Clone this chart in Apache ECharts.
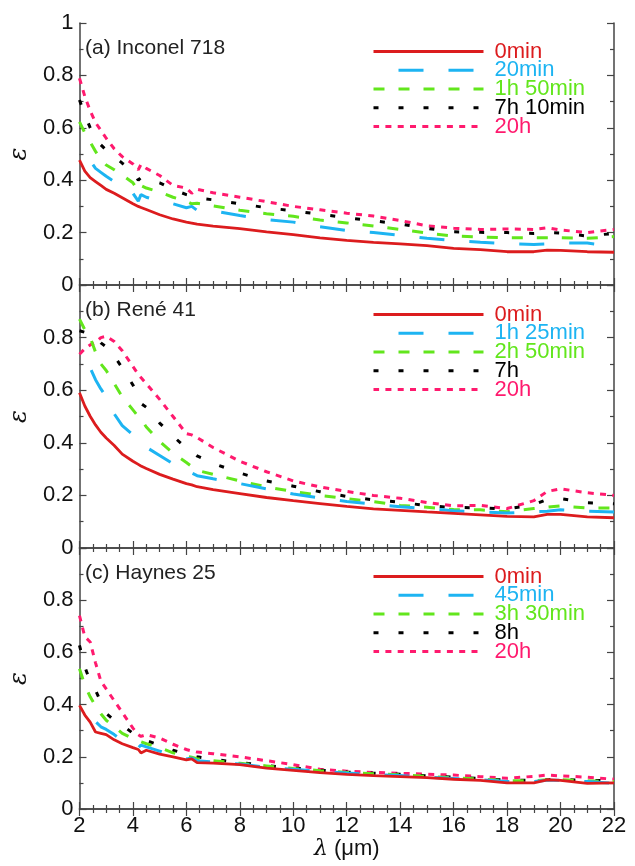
<!DOCTYPE html>
<html>
<head>
<meta charset="utf-8">
<script src="https://cdn.jsdelivr.net/npm/echarts@6/dist/echarts.min.js"></script>
<style>
html,body{margin:0;padding:0;background:#fff;}
#chart{width:635px;height:866px;}
</style>
</head>
<body>
<div id="chart"></div>
<script>
// wavelength grid (µm)
var lam = [2, 2.2, 2.4, 2.6, 2.8, 3, 3.3, 3.6, 4, 4.2, 4.3, 4.5, 5, 5.5, 6, 6.2, 6.4, 7, 8, 9, 10, 11, 12, 13, 14, 15, 16, 17, 18, 19, 19.5, 20, 21, 22];

// (a) Inconel 718
var panelATitle = '(a) Inconel 718';
var namesA = ['0min', '20min', '1h 50min', '7h 10min', '20h'];
var a0 = [0.477,0.435,0.41,0.395,0.38,0.365,0.35,0.333,0.31,0.30,0.296,0.288,0.268,0.252,0.24,0.236,0.232,0.225,0.215,0.203,0.192,0.18,0.17,0.163,0.157,0.15,0.14,0.135,0.127,0.127,0.133,0.132,0.127,0.125];
var a1 = [0.54,0.51,0.475,0.445,0.43,0.415,0.395,0.375,0.35,0.32,0.345,0.335,0.32,0.31,0.295,0.30,0.285,0.283,0.265,0.25,0.24,0.222,0.208,0.20,0.19,0.178,0.17,0.163,0.158,0.155,0.157,0.16,0.16,0.148];
var a2 = [0.623,0.58,0.545,0.51,0.48,0.458,0.44,0.42,0.39,0.36,0.38,0.37,0.355,0.335,0.32,0.31,0.312,0.302,0.285,0.272,0.262,0.248,0.237,0.225,0.212,0.198,0.187,0.183,0.18,0.18,0.18,0.18,0.178,0.185];
var a3 = [0.706,0.65,0.60,0.56,0.535,0.515,0.49,0.465,0.435,0.40,0.41,0.405,0.39,0.365,0.345,0.34,0.333,0.325,0.31,0.295,0.283,0.27,0.257,0.245,0.233,0.216,0.203,0.201,0.20,0.197,0.20,0.198,0.187,0.197];
var a4 = [0.789,0.72,0.665,0.62,0.59,0.56,0.52,0.49,0.462,0.44,0.46,0.445,0.418,0.38,0.37,0.35,0.365,0.352,0.335,0.318,0.30,0.287,0.274,0.263,0.246,0.226,0.217,0.212,0.214,0.212,0.218,0.21,0.20,0.212];

// (b) René 41
var panelBTitle = '(b) René 41';
var namesB = ['0min', '1h 25min', '2h 50min', '7h', '20h'];
var b0 = [0.59,0.54,0.501,0.468,0.44,0.418,0.39,0.357,0.33,0.318,0.312,0.302,0.28,0.262,0.245,0.24,0.233,0.222,0.207,0.192,0.18,0.169,0.158,0.149,0.143,0.137,0.132,0.126,0.12,0.118,0.128,0.128,0.118,0.115];
var b1 = [0.76,0.73,0.685,0.64,0.605,0.575,0.51,0.465,0.43,0.41,0.395,0.383,0.352,0.32,0.288,0.285,0.275,0.263,0.245,0.225,0.205,0.19,0.177,0.167,0.157,0.15,0.142,0.137,0.133,0.138,0.14,0.145,0.14,0.137];
var b2 = [0.87,0.83,0.80,0.745,0.70,0.675,0.625,0.575,0.525,0.50,0.49,0.46,0.405,0.36,0.325,0.31,0.295,0.28,0.255,0.232,0.215,0.20,0.188,0.176,0.162,0.155,0.146,0.145,0.138,0.15,0.155,0.16,0.152,0.152];
var b3 = [0.826,0.82,0.815,0.80,0.78,0.765,0.73,0.685,0.62,0.575,0.55,0.535,0.475,0.425,0.38,0.365,0.35,0.322,0.285,0.255,0.235,0.214,0.196,0.183,0.174,0.161,0.154,0.153,0.148,0.165,0.185,0.188,0.172,0.168];
var b4 = [0.737,0.758,0.772,0.782,0.80,0.805,0.785,0.75,0.69,0.66,0.648,0.625,0.565,0.50,0.435,0.43,0.42,0.382,0.33,0.29,0.255,0.232,0.215,0.20,0.189,0.173,0.16,0.162,0.15,0.18,0.215,0.225,0.21,0.20];

// (c) Haynes 25
var panelCTitle = '(c) Haynes 25';
var namesC = ['0min', '45min', '3h 30min', '8h', '20h'];
var c0 = [0.397,0.36,0.333,0.295,0.29,0.285,0.265,0.25,0.235,0.228,0.215,0.225,0.21,0.20,0.188,0.192,0.178,0.176,0.17,0.157,0.148,0.139,0.133,0.128,0.124,0.12,0.114,0.11,0.10,0.10,0.112,0.11,0.098,0.10];
var c1 = [0.40,0.39,0.365,0.335,0.315,0.305,0.285,0.262,0.245,0.235,0.245,0.238,0.222,0.205,0.192,0.195,0.185,0.18,0.172,0.16,0.152,0.145,0.138,0.132,0.128,0.122,0.117,0.112,0.105,0.105,0.11,0.11,0.105,0.098];
var c2 = [0.537,0.475,0.43,0.395,0.365,0.34,0.315,0.29,0.27,0.26,0.258,0.25,0.235,0.215,0.203,0.198,0.193,0.185,0.175,0.165,0.155,0.147,0.14,0.135,0.131,0.125,0.12,0.115,0.108,0.108,0.112,0.112,0.108,0.105];
var c3 = [0.627,0.544,0.49,0.455,0.41,0.366,0.34,0.322,0.29,0.275,0.27,0.262,0.245,0.225,0.212,0.205,0.20,0.19,0.178,0.166,0.157,0.149,0.142,0.137,0.133,0.127,0.122,0.117,0.11,0.11,0.113,0.113,0.11,0.108];
var c4 = [0.741,0.66,0.64,0.56,0.49,0.46,0.415,0.37,0.31,0.285,0.278,0.285,0.272,0.248,0.228,0.222,0.218,0.212,0.20,0.185,0.17,0.152,0.145,0.14,0.137,0.133,0.13,0.124,0.118,0.125,0.13,0.127,0.122,0.114];

var xTicks = [2, 4, 6, 8, 10, 12, 14, 16, 18, 20, 22];
var yTicks = [0, 0.2, 0.4, 0.6, 0.8, 1];

var FONT = '"Liberation Sans", Arial, sans-serif';
var colors = ['#dc1c1e', '#1db4f2', '#62e61c', '#000000', '#ff1a6e'];
var lineStyles = [
  {width: 2.8, type: 'solid'},
  {width: 3, type: [25, 25], dashOffset: 25},
  {width: 3, type: [11, 14]},
  {width: 3, type: [5, 20]},
  {width: 3, type: [6, 6.3]}
];

var panels = [
  {title: panelATitle, names: namesA, vals: [a0, a1, a2, a3, a4], top: 23, height: 262, legendTop: 40.5, titleTop: 37.5},
  {title: panelBTitle, names: namesB, vals: [b0, b1, b2, b3, b4], top: 285, height: 263, legendTop: 303.5, titleTop: 299.5},
  {title: panelCTitle, names: namesC, vals: [c0, c1, c2, c3, c4], top: 548, height: 261, legendTop: 565.5, titleTop: 562.5}
];

var axisColor = '#444';
var grids = [], xAxes = [], yAxes = [], series = [], legends = [], titles = [];

panels.forEach(function (p, i) {
  grids.push({left: 76, right: 21, top: p.top, height: p.height});
  var last = (i === panels.length - 1);
  var baseX = {
    type: 'value', gridIndex: i, min: xTicks[0], max: xTicks[xTicks.length - 1], interval: 2,
    axisLine: {lineStyle: {color: axisColor, width: 1.5}},
    axisTick: {inside: true, length: 7, lineStyle: {color: axisColor, width: 1.2}},
    minorTick: {show: true, splitNumber: 4, length: 4, lineStyle: {color: axisColor, width: 1.2}},
    splitLine: {show: false}
  };
  xAxes.push(Object.assign({}, baseX, {
    position: 'bottom',
    axisLabel: {show: last, fontSize: 22, color: '#111', fontFamily: FONT, margin: 6},
    name: last ? '{i|λ} (μm)' : '',
    nameLocation: 'middle', nameGap: 28,
    nameTextStyle: {fontSize: 22, color: '#111', fontFamily: FONT,
      rich: {i: {fontSize: 22, fontStyle: 'italic', fontFamily: '"DejaVu Serif", serif', color: '#111'}}}
  }));
  xAxes.push(Object.assign({}, baseX, {position: 'top', axisLabel: {show: false}}));
  var baseY = {
    type: 'value', gridIndex: i, min: yTicks[0], max: yTicks[yTicks.length - 1], interval: 0.2,
    axisLine: {lineStyle: {color: axisColor, width: 1.5}},
    axisTick: {inside: true, length: 7, lineStyle: {color: axisColor, width: 1.2}},
    minorTick: {show: true, splitNumber: 2, length: 4, lineStyle: {color: axisColor, width: 1.2}},
    splitLine: {show: false}
  };
  yAxes.push(Object.assign({}, baseY, {
    position: 'left',
    axisLabel: {fontSize: 22, color: '#111', fontFamily: FONT, margin: 6,
      formatter: (function (idx) { return function (v) { if (idx > 0 && v === 1) return ''; return String(v); }; })(i)},
    name: 'ε', nameLocation: 'middle', nameRotate: 90, nameGap: 37,
    nameTextStyle: {fontSize: 24, fontStyle: 'italic', color: '#111', fontFamily: '"DejaVu Serif", serif'}
  }));
  yAxes.push(Object.assign({}, baseY, {position: 'right', axisLabel: {show: false}}));

  p.vals.forEach(function (v, k) {
    series.push({
      type: 'line', name: p.names[k], xAxisIndex: 2 * i, yAxisIndex: 2 * i,
      symbol: 'none', showSymbol: false, silent: true, animation: false,
      color: colors[k],
      lineStyle: Object.assign({color: colors[k]}, lineStyles[k]),
      data: lam.map(function (x, j) { return [x, v[j]]; }),
      z: 10 - k
    });
  });

  legends.push({
    orient: 'vertical', left: 372, top: p.legendTop, padding: 0,
    itemWidth: 110, itemHeight: 12, itemGap: -3.25, selectedMode: false,
    lineStyle: {width: 3},
    itemStyle: {opacity: 0, color: 'rgba(0,0,0,0)', borderWidth: 0},
    textStyle: {fontSize: 22, fontFamily: FONT, padding: [0, 0, 0, 6]},
    data: p.names.map(function (n, k) { return {name: n, textStyle: {color: colors[k]}}; })
  });

  titles.push({
    text: p.title, left: 85, top: p.titleTop, padding: 0,
    textStyle: {fontSize: 21, fontWeight: 'normal', color: '#222', fontFamily: FONT}
  });
});

var chart = echarts.init(document.getElementById('chart'), null, {renderer: 'canvas'});
chart.setOption({
  animation: false,
  backgroundColor: '#fff',
  title: titles,
  legend: legends,
  grid: grids,
  xAxis: xAxes,
  yAxis: yAxes,
  series: series
});
</script>
</body>
</html>
